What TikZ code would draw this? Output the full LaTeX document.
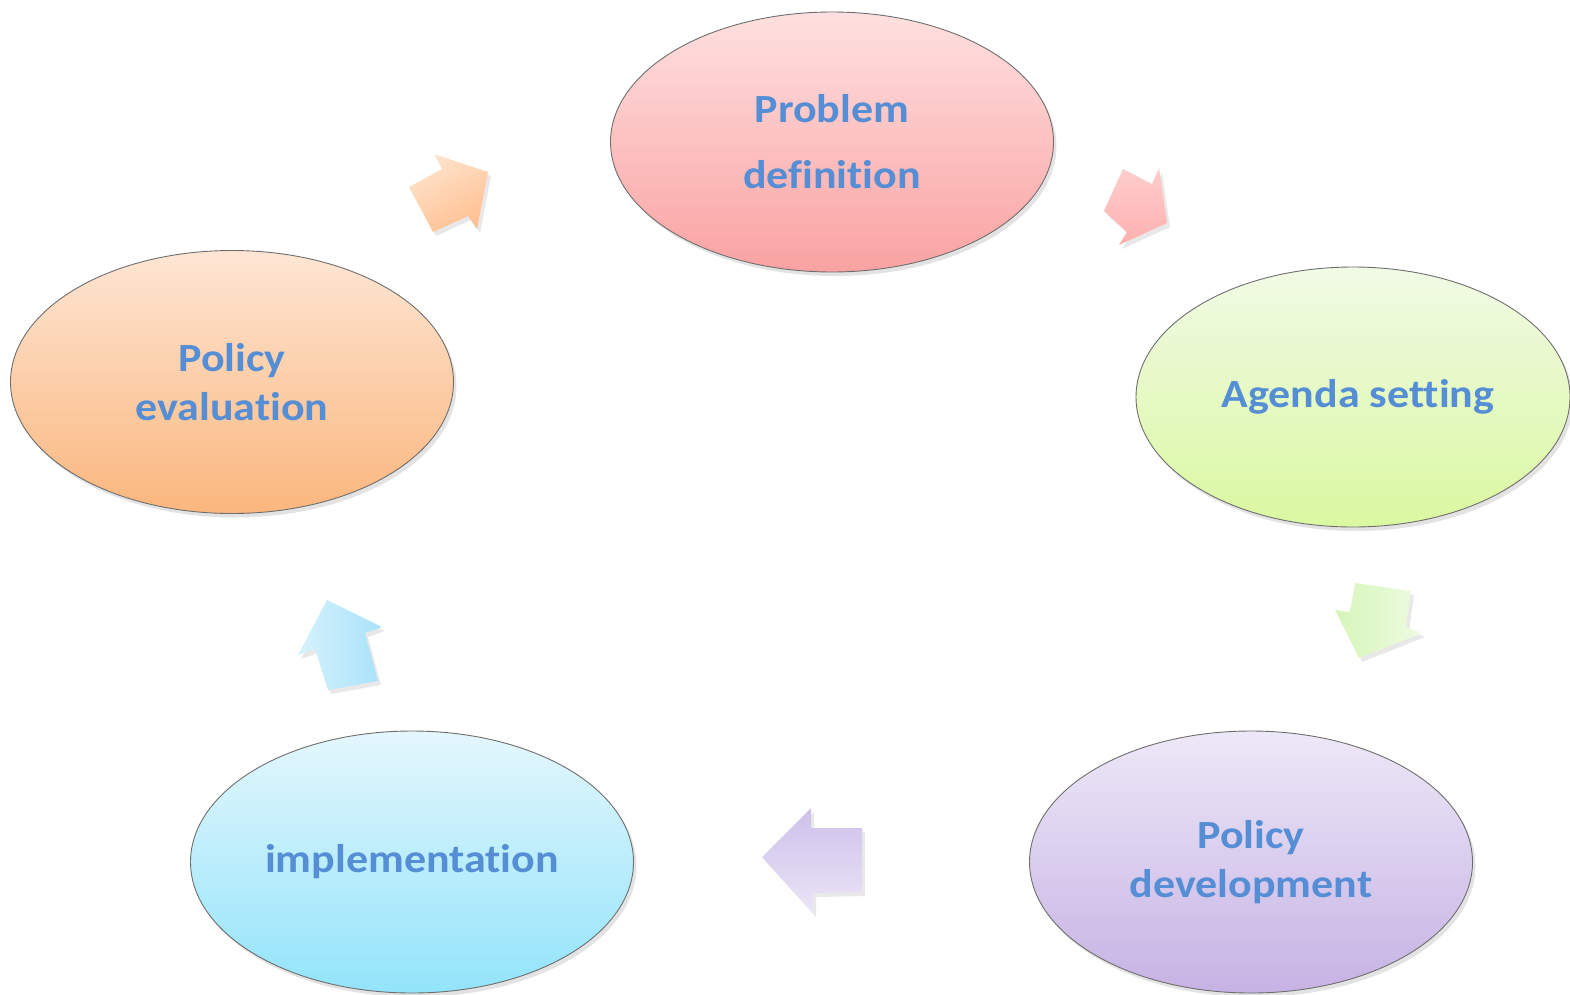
\documentclass[tikz,border=0pt]{standalone}
\usepackage{fontspec}
\setmainfont{Carlito}[FakeStretch=1.1, Ligatures=NoCommon]
\usetikzlibrary{shapes.geometric,shadows}
\definecolor{txtblue}{RGB}{85,142,213}
\definecolor{edge}{RGB}{110,110,110}
\definecolor{pkT}{RGB}{255,224,224}\definecolor{pkB}{RGB}{250,162,162}
\definecolor{grT}{RGB}{241,250,230}\definecolor{grB}{RGB}{218,248,160}
\definecolor{puT}{RGB}{237,232,247}\definecolor{puB}{RGB}{198,178,228}
\definecolor{blT}{RGB}{228,247,253}\definecolor{blB}{RGB}{146,228,250}
\definecolor{orT}{RGB}{254,230,212}\definecolor{orB}{RGB}{250,182,125}
\tikzset{
  stage/.style={ellipse, draw=edge, line width=0.9pt, inner sep=0pt,
    minimum width=443pt, minimum height=260pt,
    text=txtblue, align=center,
    font=\fontsize{40}{49}\selectfont\bfseries,
    drop shadow={opacity=0.22, shadow xshift=3pt, shadow yshift=-4pt}},
  blockarrow/.style={drop shadow={opacity=0.18, shadow xshift=3pt, shadow yshift=-4pt}}
}
\begin{document}
\begin{tikzpicture}[x=1pt,y=-1pt]
\useasboundingbox (0,0) rectangle (1570,994);
% stages
\node[stage, top color=pkT, bottom color=pkB,
  font=\fontsize{40}{66}\selectfont\bfseries] (prob) at (832,142) {Problem\\definition};
\node[stage, top color=grT, bottom color=grB, minimum width=434pt] (agen) at (1353,397) {\hspace*{10pt}Agenda setting};
\node[stage, top color=puT, bottom color=puB, minimum height=262pt] (dev) at (1251,862) {Policy\\development};
\node[stage, top color=blT, bottom color=blB, minimum height=262pt] (impl) at (412,862) {implementation};
\node[stage, top color=orT, bottom color=orB, minimum height=263pt] (eval) at (232,382) {Policy\\evaluation};
% block arrows
\shade[blockarrow, top color={rgb,255:red,255;green,228;blue,205}, bottom color={rgb,255:red,255;green,192;blue,145}, shading angle=30]
  (409,187) -- (442,169) -- (434,154) -- (488,172) -- (477,229) -- (468,216) -- (433,232) -- cycle;
\shade[blockarrow, top color={rgb,255:red,255;green,205;blue,205}, bottom color={rgb,255:red,255;green,175;blue,175}]
  (1123,169) -- (1152,184) -- (1159,168) -- (1167,223) -- (1119,245) -- (1127,232) -- (1104,211) -- cycle;
\shade[blockarrow, left color={rgb,255:red,214;green,246;blue,186}, right color={rgb,255:red,238;green,251;blue,226}]
  (1355,583) -- (1411,591) -- (1406,627) -- (1422,633) -- (1359,658) -- (1335,610) -- (1350,612) -- cycle;
\shade[blockarrow, top color={rgb,255:red,206;green,192;blue,234}, bottom color={rgb,255:red,234;green,229;blue,247}]
  (862,828) -- (811,828) -- (811,808) -- (762,857) -- (813,913) -- (813,893) -- (862,892) -- cycle;
\shade[blockarrow, left color={rgb,255:red,214;green,242;blue,252}, right color={rgb,255:red,168;green,226;blue,250}]
  (327,600) -- (382,627) -- (365,633) -- (378,681) -- (328,690) -- (315,649) -- (298,655) -- cycle;
\end{tikzpicture}
\end{document}
